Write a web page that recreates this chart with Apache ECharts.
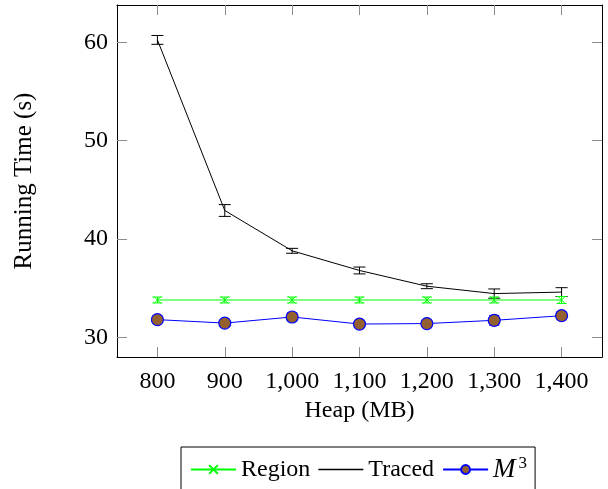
<!DOCTYPE html>
<html>
<head>
<meta charset="utf-8">
<script src="https://cdn.jsdelivr.net/npm/echarts@6/dist/echarts.min.js"></script>
<style>
  html, body { margin: 0; padding: 0; background: #fff; }
  #chart { width: 608px; height: 489px; }
</style>
</head>
<body>
<div id="chart"></div>
<script>
const heaps = [800, 900, 1000, 1100, 1200, 1300, 1400]
const xTicks = [800, 900, 1000, 1100, 1200, 1300, 1400]
const yTicks = [30, 40, 50, 60]

const regionMean = [33.8, 33.8, 33.8, 33.8, 33.8, 33.8, 33.8]
const regionErr = [0.3, 0.3, 0.3, 0.3, 0.3, 0.3, 0.35]
const tracedMean = [60.25, 42.9, 38.8, 36.8, 35.2, 34.45, 34.6]
const tracedErr = [0.45, 0.6, 0.25, 0.35, 0.25, 0.47, 0.45]
const m3Mean = [31.8, 31.45, 32.07, 31.35, 31.4, 31.73, 32.2]
const m3Err = [0.35, 0.3, 0.4, 0.3, 0.3, 0.5, 0.4]

const FONT = '"Liberation Serif", "DejaVu Serif", serif'
const tickGray = '#8c8c8c'

function pairs(means) {
  return heaps.map((h, i) => [h, means[i]])
}
function bars(means, errs) {
  return heaps.map((h, i) => [h, means[i] - errs[i], means[i] + errs[i]])
}

function errorBar(color, capHalf) {
  return function (params, api) {
    const x = api.value(0)
    const lo = api.coord([x, api.value(1)])
    const hi = api.coord([x, api.value(2)])
    const st = { stroke: color, lineWidth: 1 }
    return {
      type: 'group',
      children: [
        { type: 'line', shape: { x1: lo[0], y1: lo[1], x2: hi[0], y2: hi[1] }, style: st },
        { type: 'line', shape: { x1: lo[0] - capHalf, y1: lo[1], x2: lo[0] + capHalf, y2: lo[1] }, style: st },
        { type: 'line', shape: { x1: hi[0] - capHalf, y1: hi[1], x2: hi[0] + capHalf, y2: hi[1] }, style: st }
      ]
    }
  }
}

const chart = echarts.init(document.getElementById('chart'), null, { renderer: 'canvas' })

const baseX = {
  type: 'value',
  min: 740,
  max: 1460,
  splitLine: { show: false },
  axisLine: { show: true, onZero: false, lineStyle: { color: '#000', width: 1 } },
  axisTick: { show: true, inside: true, length: 10, customValues: xTicks, lineStyle: { color: tickGray } }
}
const baseY = {
  type: 'value',
  min: 28,
  max: 63.8,
  splitLine: { show: false },
  axisLine: { show: true, onZero: false, lineStyle: { color: '#000', width: 1 } },
  axisTick: { show: true, inside: true, length: 10, customValues: yTicks, lineStyle: { color: tickGray } }
}

const option = {
  animation: false,
  backgroundColor: '#fff',
  textStyle: { fontFamily: FONT },
  grid: { left: 117, right: 6, top: 5, bottom: 132, containLabel: false },
  xAxis: [
    Object.assign({}, baseX, {
      position: 'bottom',
      name: 'Heap (MB)',
      nameLocation: 'middle',
      nameGap: 42,
      nameTextStyle: { fontFamily: FONT, fontSize: 24, color: '#000' },
      axisLabel: {
        customValues: xTicks,
        margin: 13,
        fontFamily: FONT,
        fontSize: 24,
        color: '#000',
        formatter: v => v.toLocaleString('en-US')
      }
    }),
    Object.assign({}, baseX, { position: 'top', axisLabel: { show: false } })
  ],
  yAxis: [
    Object.assign({}, baseY, {
      position: 'left',
      name: 'Running Time (s)',
      nameLocation: 'middle',
      nameGap: 80,
      nameTextStyle: { fontFamily: FONT, fontSize: 25, color: '#000' },
      axisLabel: { customValues: yTicks, margin: 9, fontFamily: FONT, fontSize: 24, color: '#000' }
    }),
    Object.assign({}, baseY, { position: 'right', axisLabel: { show: false } })
  ],
  legend: {
    data: [
      { name: 'Region' },
      { name: 'Traced', icon: 'path://M0,0L45,0L45,1.4L0,1.4Z', itemStyle: { color: '#000' } },
      { name: 'M3' }
    ],
    left: 181,
    top: 447,
    padding: [8, 8, 30, 9],
    itemWidth: 45,
    itemHeight: 11,
    itemGap: 8,
    symbolKeepAspect: true,
    borderColor: '#000',
    borderWidth: 1,
    borderRadius: 0,
    textStyle: {
      fontFamily: FONT,
      fontSize: 24,
      color: '#000',
      rich: {
        it: { fontFamily: FONT, fontSize: 27, fontStyle: 'italic', color: '#000' },
        sup: { fontFamily: FONT, fontSize: 17, color: '#000', padding: [0, 0, 12, 3] }
      }
    },
    formatter: name => (name === 'M3' ? '{it|M}{sup|3}' : name)
  },
  series: [
    {
      type: 'custom',
      name: 'tracedErr',
      z: 1,
      renderItem: errorBar('#000', 6),
      data: bars(tracedMean, tracedErr)
    },
    {
      type: 'custom',
      name: 'regionErr',
      z: 1,
      renderItem: errorBar('#00ff00', 5),
      data: bars(regionMean, regionErr)
    },
    {
      type: 'custom',
      name: 'm3Err',
      z: 1,
      renderItem: errorBar('#0000ff', 5),
      data: bars(m3Mean, m3Err)
    },
    {
      type: 'line',
      name: 'Region',
      z: 3,
      data: pairs(regionMean),
      symbol: 'path://M0,0L10,10M10,0L0,10',
      symbolSize: 7,
      lineStyle: { color: '#00ff00', width: 1 },
      itemStyle: { color: '#00ff00', borderColor: '#00ff00', borderWidth: 1 }
    },
    {
      type: 'line',
      name: 'Traced',
      z: 3,
      data: pairs(tracedMean),
      symbol: 'none',
      lineStyle: { color: '#000', width: 1 },
      itemStyle: { color: '#000' }
    },
    {
      type: 'line',
      name: 'M3',
      z: 4,
      data: pairs(m3Mean),
      symbol: 'circle',
      symbolSize: 12,
      lineStyle: { color: '#0000ff', width: 1 },
      itemStyle: { color: '#95602f', borderColor: '#0000ff', borderWidth: 1.2 }
    }
  ]
}

chart.setOption(option)
</script>
</body>
</html>
